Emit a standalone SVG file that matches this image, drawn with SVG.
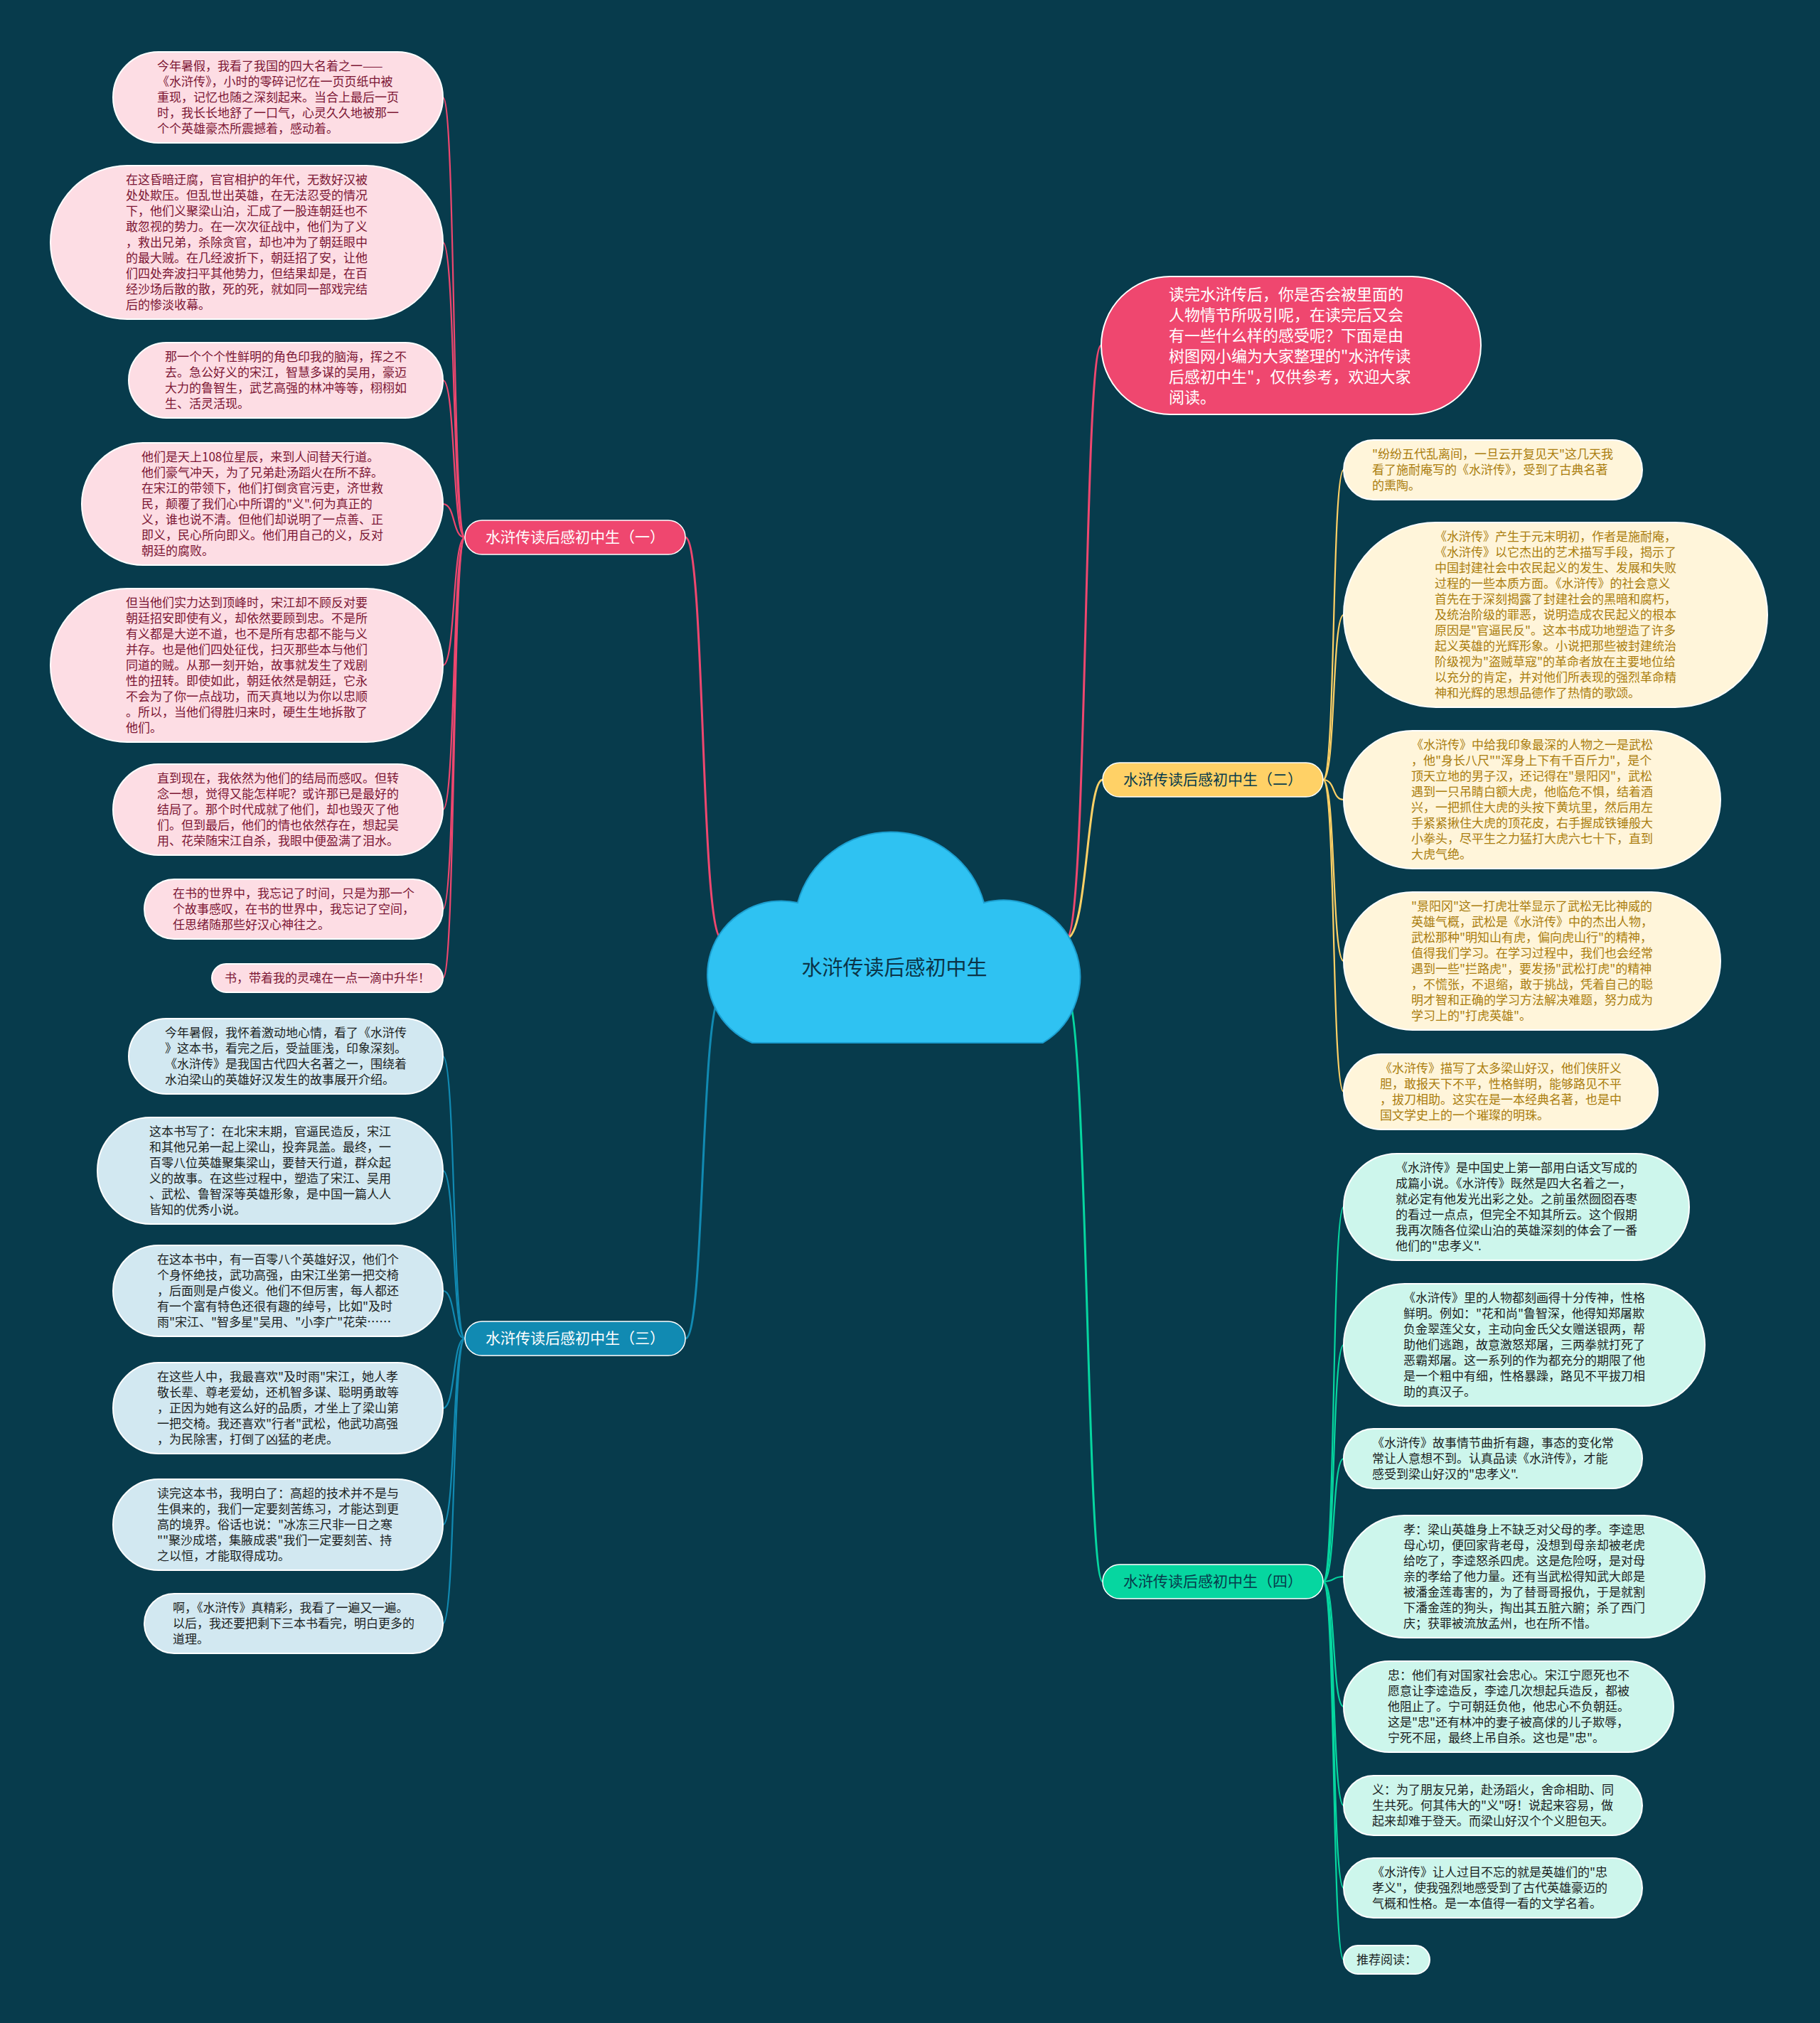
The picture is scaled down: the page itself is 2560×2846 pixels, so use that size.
<svg xmlns="http://www.w3.org/2000/svg" width="2560" height="2846" viewBox="0 0 2560 2846">
<style>
text{font-family:"Noto Sans CJK SC","Noto Sans",sans-serif}
.lf{font-size:17px}
.lp rect{fill:#fddde4;stroke:#ffffff;stroke-width:2}
.lp text{fill:#7c1634}
.ly rect{fill:#fff5da;stroke:#ffffff;stroke-width:2}
.ly text{fill:#aa7d0e}
.lg rect{fill:#cdf6ec;stroke:#ffffff;stroke-width:2}
.lg text{fill:#1b1f1f}
.lb rect{fill:#d2e8f1;stroke:#ffffff;stroke-width:2}
.lb text{fill:#1b1f22}
.br text{font-size:21px;text-anchor:middle}
.c{fill:none;stroke-linecap:round}
.cp{stroke:#ef476f}
.cy{stroke:#ffd166}
.cg{stroke:#06d6a0}
.cb{stroke:#118ab2}
.m{stroke-width:3}
.s{stroke-width:2.2}
</style>
<rect x="0" y="0" width="2560" height="2846" fill="#073b4c"/>

<g id="connectors">
<path class="c cp m" d="M1015,1320 C985,1320 992,756 964,756"/>
<path class="c cb m" d="M1015,1400 C985,1400 992,1883 964,1883"/>
<path class="c cp m" d="M1500,1320 C1530,1320 1524,486 1549,486"/>
<path class="c cy m" d="M1500,1320 C1530,1320 1528,1097 1551,1097"/>
<path class="c cg m" d="M1500,1400 C1530,1400 1528,2225 1551,2225"/>

<path class="c cp s" d="M654,756 C636,756 641,137 623,137"/>
<path class="c cp s" d="M654,756 C636,756 641,341 623,341"/>
<path class="c cp s" d="M654,756 C636,756 641,535 623,535"/>
<path class="c cp s" d="M654,756 C636,756 641,709 623,709"/>
<path class="c cp s" d="M654,756 C636,756 641,936 623,936"/>
<path class="c cp s" d="M654,756 C636,756 641,1139 623,1139"/>
<path class="c cp s" d="M654,756 C636,756 641,1279 623,1279"/>
<path class="c cp s" d="M654,756 C636,756 641,1376 623,1376"/>

<path class="c cb s" d="M654,1883 C636,1883 641,1486 623,1486"/>
<path class="c cb s" d="M654,1883 C636,1883 641,1647 623,1647"/>
<path class="c cb s" d="M654,1883 C636,1883 641,1816 623,1816"/>
<path class="c cb s" d="M654,1883 C636,1883 641,1981 623,1981"/>
<path class="c cb s" d="M654,1883 C636,1883 641,2145 623,2145"/>
<path class="c cb s" d="M654,1883 C636,1883 641,2284 623,2284"/>

<path class="c cy s" d="M1861,1097 C1879,1097 1873,661 1890,661"/>
<path class="c cy s" d="M1861,1097 C1879,1097 1873,865 1890,865"/>
<path class="c cy s" d="M1861,1097 C1879,1097 1873,1125 1890,1125"/>
<path class="c cy s" d="M1861,1097 C1879,1097 1873,1352 1890,1352"/>
<path class="c cy s" d="M1861,1097 C1879,1097 1873,1536 1890,1536"/>

<path class="c cg s" d="M1861,2225 C1879,2225 1873,1698 1890,1698"/>
<path class="c cg s" d="M1861,2225 C1879,2225 1873,1892 1890,1892"/>
<path class="c cg s" d="M1861,2225 C1879,2225 1873,2052 1890,2052"/>
<path class="c cg s" d="M1861,2225 C1879,2225 1873,2218 1890,2218"/>
<path class="c cg s" d="M1861,2225 C1879,2225 1873,2401 1890,2401"/>
<path class="c cg s" d="M1861,2225 C1879,2225 1873,2540 1890,2540"/>
<path class="c cg s" d="M1861,2225 C1879,2225 1873,2656 1890,2656"/>
<path class="c cg s" d="M1861,2225 C1879,2225 1873,2757 1890,2757"/>
</g>

<g id="center">
<path d="M1058,1467 A104,104 0 0 1 1122,1270 A136,136 0 0 1 1384,1270 A108,108 0 0 1 1467,1467 Z" fill="#2fc2f2" stroke="#1c9fd0" stroke-width="2"/>
<text x="1258" y="1372" font-size="29" text-anchor="middle" fill="#0b3447">水浒传读后感初中生</text>
</g>

<g id="intro">
<rect x="1549" y="389" width="534" height="194" rx="97" fill="#ef476f" stroke="#ffffff" stroke-width="2"/>
<text font-size="22" fill="#ffffff" x="1644" y="422"><tspan x="1644">读完水浒传后，你是否会被里面的</tspan><tspan x="1644" dy="29">人物情节所吸引呢，在读完后又会</tspan><tspan x="1644" dy="29">有一些什么样的感受呢？下面是由</tspan><tspan x="1644" dy="29">树图网小编为大家整理的"水浒传读</tspan><tspan x="1644" dy="29">后感初中生"，仅供参考，欢迎大家</tspan><tspan x="1644" dy="29">阅读。</tspan></text>
</g>

<g id="branch1" class="br">
<rect x="654" y="732" width="310" height="48" rx="24" fill="#ef476f" stroke="#ffffff" stroke-width="1.5"/>
<text x="809" y="763" fill="#ffffff">水浒传读后感初中生（一）</text>
</g>
<g id="branch2" class="br">
<rect x="1551" y="1073" width="310" height="48" rx="24" fill="#ffd166" stroke="#ffffff" stroke-width="1.5"/>
<text x="1706" y="1104" fill="#073b4c">水浒传读后感初中生（二）</text>
</g>
<g id="branch3" class="br">
<rect x="654" y="1859" width="310" height="48" rx="24" fill="#118ab2" stroke="#ffffff" stroke-width="1.5"/>
<text x="809" y="1890" fill="#ffffff">水浒传读后感初中生（三）</text>
</g>
<g id="branch4" class="br">
<rect x="1551" y="2201" width="310" height="48" rx="24" fill="#06d6a0" stroke="#ffffff" stroke-width="1.5"/>
<text x="1706" y="2232" fill="#073b4c">水浒传读后感初中生（四）</text>
</g>

<g id="p1" class="lp">
<rect x="159" y="73" width="464" height="128" rx="64"/>
<text class="lf" x="221" y="99"><tspan x="221">今年暑假，我看了我国的四大名着之一——</tspan><tspan x="221" dy="22">《水浒传》，小时的零碎记忆在一页页纸中被</tspan><tspan x="221" dy="22">重现，记忆也随之深刻起来。当合上最后一页</tspan><tspan x="221" dy="22">时，我长长地舒了一口气，心灵久久地被那一</tspan><tspan x="221" dy="22">个个英雄豪杰所震撼着，感动着。</tspan></text>
</g>
<g id="p2" class="lp">
<rect x="71" y="233" width="552" height="216" rx="108"/>
<text class="lf" x="177" y="259"><tspan x="177">在这昏暗迂腐，官官相护的年代，无数好汉被</tspan><tspan x="177" dy="22">处处欺压。但乱世出英雄，在无法忍受的情况</tspan><tspan x="177" dy="22">下，他们义聚梁山泊，汇成了一股连朝廷也不</tspan><tspan x="177" dy="22">敢忽视的势力。在一次次征战中，他们为了义</tspan><tspan x="177" dy="22">，救出兄弟，杀除贪官，却也冲为了朝廷眼中</tspan><tspan x="177" dy="22">的最大贼。在几经波折下，朝廷招了安，让他</tspan><tspan x="177" dy="22">们四处奔波扫平其他势力，但结果却是，在百</tspan><tspan x="177" dy="22">经沙场后散的散，死的死，就如同一部戏完结</tspan><tspan x="177" dy="22">后的惨淡收幕。</tspan></text>
</g>
<g id="p3" class="lp">
<rect x="181" y="482" width="442" height="106" rx="53"/>
<text class="lf" x="232" y="508"><tspan x="232">那一个个个性鲜明的角色印我的脑海，挥之不</tspan><tspan x="232" dy="22">去。急公好义的宋江，智慧多谋的吴用，豪迈</tspan><tspan x="232" dy="22">大力的鲁智生，武艺高强的林冲等等，栩栩如</tspan><tspan x="232" dy="22">生、活灵活现。</tspan></text>
</g>
<g id="p4" class="lp">
<rect x="115" y="623" width="508" height="172" rx="86"/>
<text class="lf" x="199" y="649"><tspan x="199">他们是天上108位星辰，来到人间替天行道。</tspan><tspan x="199" dy="22">他们豪气冲天，为了兄弟赴汤蹈火在所不辞。</tspan><tspan x="199" dy="22">在宋江的带领下，他们打倒贪官污吏，济世救</tspan><tspan x="199" dy="22">民，颠覆了我们心中所谓的"义".何为真正的</tspan><tspan x="199" dy="22">义，谁也说不清。但他们却说明了一点善、正</tspan><tspan x="199" dy="22">即义，民心所向即义。他们用自己的义，反对</tspan><tspan x="199" dy="22">朝廷的腐败。</tspan></text>
</g>
<g id="p5" class="lp">
<rect x="71" y="828" width="552" height="216" rx="108"/>
<text class="lf" x="177" y="854"><tspan x="177">但当他们实力达到顶峰时，宋江却不顾反对要</tspan><tspan x="177" dy="22">朝廷招安即使有义，却依然要顾到忠。不是所</tspan><tspan x="177" dy="22">有义都是大逆不道，也不是所有忠都不能与义</tspan><tspan x="177" dy="22">并存。也是他们四处征伐，扫灭那些本与他们</tspan><tspan x="177" dy="22">同道的贼。从那一刻开始，故事就发生了戏剧</tspan><tspan x="177" dy="22">性的扭转。即使如此，朝廷依然是朝廷，它永</tspan><tspan x="177" dy="22">不会为了你一点战功，而天真地以为你以忠顺</tspan><tspan x="177" dy="22">。所以，当他们得胜归来时，硬生生地拆散了</tspan><tspan x="177" dy="22">他们。</tspan></text>
</g>
<g id="p6" class="lp">
<rect x="159" y="1075" width="464" height="128" rx="64"/>
<text class="lf" x="221" y="1101"><tspan x="221">直到现在，我依然为他们的结局而感叹。但转</tspan><tspan x="221" dy="22">念一想，觉得又能怎样呢？或许那已是最好的</tspan><tspan x="221" dy="22">结局了。那个时代成就了他们，却也毁灭了他</tspan><tspan x="221" dy="22">们。但到最后，他们的情也依然存在，想起吴</tspan><tspan x="221" dy="22">用、花荣随宋江自杀，我眼中便盈满了泪水。</tspan></text>
</g>
<g id="p7" class="lp">
<rect x="203" y="1237" width="420" height="84" rx="42"/>
<text class="lf" x="243" y="1263"><tspan x="243">在书的世界中，我忘记了时间，只是为那一个</tspan><tspan x="243" dy="22">个故事感叹，在书的世界中，我忘记了空间，</tspan><tspan x="243" dy="22">任思绪随那些好汉心神往之。</tspan></text>
</g>
<g id="p8" class="lp">
<rect x="298" y="1356" width="325" height="40" rx="20"/>
<text class="lf" x="316" y="1382">书，带着我的灵魂在一点一滴中升华！</text>
</g>

<g id="b1" class="lb">
<rect x="181" y="1433" width="442" height="106" rx="53"/>
<text class="lf" x="232" y="1459"><tspan x="232">今年暑假，我怀着激动地心情，看了《水浒传</tspan><tspan x="232" dy="22">》这本书，看完之后，受益匪浅，印象深刻。</tspan><tspan x="232" dy="22">《水浒传》是我国古代四大名著之一，围绕着</tspan><tspan x="232" dy="22">水泊梁山的英雄好汉发生的故事展开介绍。</tspan></text>
</g>
<g id="b2" class="lb">
<rect x="137" y="1572" width="486" height="150" rx="75"/>
<text class="lf" x="210" y="1598"><tspan x="210">这本书写了：在北宋末期，官逼民造反，宋江</tspan><tspan x="210" dy="22">和其他兄弟一起上梁山，投奔晁盖。最终，一</tspan><tspan x="210" dy="22">百零八位英雄聚集梁山，要替天行道，群众起</tspan><tspan x="210" dy="22">义的故事。在这些过程中，塑造了宋江、吴用</tspan><tspan x="210" dy="22">、武松、鲁智深等英雄形象，是中国一篇人人</tspan><tspan x="210" dy="22">皆知的优秀小说。</tspan></text>
</g>
<g id="b3" class="lb">
<rect x="159" y="1752" width="464" height="128" rx="64"/>
<text class="lf" x="221" y="1778"><tspan x="221">在这本书中，有一百零八个英雄好汉，他们个</tspan><tspan x="221" dy="22">个身怀绝技，武功高强，由宋江坐第一把交椅</tspan><tspan x="221" dy="22">，后面则是卢俊义。他们不但厉害，每人都还</tspan><tspan x="221" dy="22">有一个富有特色还很有趣的绰号，比如"及时</tspan><tspan x="221" dy="22">雨"宋江、"智多星"吴用、"小李广"花荣……</tspan></text>
</g>
<g id="b4" class="lb">
<rect x="159" y="1917" width="464" height="128" rx="64"/>
<text class="lf" x="221" y="1943"><tspan x="221">在这些人中，我最喜欢"及时雨"宋江，她人孝</tspan><tspan x="221" dy="22">敬长辈、尊老爱幼，还机智多谋、聪明勇敢等</tspan><tspan x="221" dy="22">，正因为她有这么好的品质，才坐上了梁山第</tspan><tspan x="221" dy="22">一把交椅。我还喜欢"行者"武松，他武功高强</tspan><tspan x="221" dy="22">，为民除害，打倒了凶猛的老虎。</tspan></text>
</g>
<g id="b5" class="lb">
<rect x="159" y="2081" width="464" height="128" rx="64"/>
<text class="lf" x="221" y="2107"><tspan x="221">读完这本书，我明白了：高超的技术并不是与</tspan><tspan x="221" dy="22">生俱来的，我们一定要刻苦练习，才能达到更</tspan><tspan x="221" dy="22">高的境界。俗话也说："冰冻三尺非一日之寒</tspan><tspan x="221" dy="22">""聚沙成塔，集腋成裘"我们一定要刻苦、持</tspan><tspan x="221" dy="22">之以恒，才能取得成功。</tspan></text>
</g>
<g id="b6" class="lb">
<rect x="203" y="2242" width="420" height="84" rx="42"/>
<text class="lf" x="243" y="2268"><tspan x="243">啊，《水浒传》真精彩，我看了一遍又一遍。</tspan><tspan x="243" dy="22">以后，我还要把剩下三本书看完，明白更多的</tspan><tspan x="243" dy="22">道理。</tspan></text>
</g>

<g id="y1" class="ly">
<rect x="1890" y="619" width="420" height="84" rx="42"/>
<text class="lf" x="1930" y="645"><tspan x="1930">"纷纷五代乱离间，一旦云开复见天"这几天我</tspan><tspan x="1930" dy="22">看了施耐庵写的《水浒传》，受到了古典名著</tspan><tspan x="1930" dy="22">的熏陶。</tspan></text>
</g>
<g id="y2" class="ly">
<rect x="1890" y="735" width="596" height="260" rx="130"/>
<text class="lf" x="2018" y="761"><tspan x="2018">《水浒传》产生于元末明初，作者是施耐庵，</tspan><tspan x="2018" dy="22">《水浒传》以它杰出的艺术描写手段，揭示了</tspan><tspan x="2018" dy="22">中国封建社会中农民起义的发生、发展和失败</tspan><tspan x="2018" dy="22">过程的一些本质方面。《水浒传》的社会意义</tspan><tspan x="2018" dy="22">首先在于深刻揭露了封建社会的黑暗和腐朽，</tspan><tspan x="2018" dy="22">及统治阶级的罪恶，说明造成农民起义的根本</tspan><tspan x="2018" dy="22">原因是"官逼民反"。这本书成功地塑造了许多</tspan><tspan x="2018" dy="22">起义英雄的光辉形象。小说把那些被封建统治</tspan><tspan x="2018" dy="22">阶级视为"盗贼草寇"的革命者放在主要地位给</tspan><tspan x="2018" dy="22">以充分的肯定，并对他们所表现的强烈革命精</tspan><tspan x="2018" dy="22">神和光辉的思想品德作了热情的歌颂。</tspan></text>
</g>
<g id="y3" class="ly">
<rect x="1890" y="1028" width="530" height="194" rx="97"/>
<text class="lf" x="1985" y="1054"><tspan x="1985">《水浒传》中给我印象最深的人物之一是武松</tspan><tspan x="1985" dy="22">，他"身长八尺""浑身上下有千百斤力"，是个</tspan><tspan x="1985" dy="22">顶天立地的男子汉，还记得在"景阳冈"，武松</tspan><tspan x="1985" dy="22">遇到一只吊睛白额大虎，他临危不惧，结着酒</tspan><tspan x="1985" dy="22">兴，一把抓住大虎的头按下黄坑里，然后用左</tspan><tspan x="1985" dy="22">手紧紧揪住大虎的顶花皮，右手握成铁锤般大</tspan><tspan x="1985" dy="22">小拳头，尽平生之力猛打大虎六七十下，直到</tspan><tspan x="1985" dy="22">大虎气绝。</tspan></text>
</g>
<g id="y4" class="ly">
<rect x="1890" y="1255" width="530" height="194" rx="97"/>
<text class="lf" x="1985" y="1281"><tspan x="1985">"景阳冈"这一打虎壮举显示了武松无比神威的</tspan><tspan x="1985" dy="22">英雄气概，武松是《水浒传》中的杰出人物，</tspan><tspan x="1985" dy="22">武松那种"明知山有虎，偏向虎山行"的精神，</tspan><tspan x="1985" dy="22">值得我们学习。在学习过程中，我们也会经常</tspan><tspan x="1985" dy="22">遇到一些"拦路虎"，要发扬"武松打虎"的精神</tspan><tspan x="1985" dy="22">，不慌张，不退缩，敢于挑战，凭着自己的聪</tspan><tspan x="1985" dy="22">明才智和正确的学习方法解决难题，努力成为</tspan><tspan x="1985" dy="22">学习上的"打虎英雄"。</tspan></text>
</g>
<g id="y5" class="ly">
<rect x="1890" y="1483" width="442" height="106" rx="53"/>
<text class="lf" x="1941" y="1509"><tspan x="1941">《水浒传》描写了太多梁山好汉，他们侠肝义</tspan><tspan x="1941" dy="22">胆，敢报天下不平，性格鲜明，能够路见不平</tspan><tspan x="1941" dy="22">，拔刀相助。这实在是一本经典名著，也是中</tspan><tspan x="1941" dy="22">国文学史上的一个璀璨的明珠。</tspan></text>
</g>

<g id="g1" class="lg">
<rect x="1890" y="1623" width="486" height="150" rx="75"/>
<text class="lf" x="1963" y="1649"><tspan x="1963">《水浒传》是中国史上第一部用白话文写成的</tspan><tspan x="1963" dy="22">成篇小说。《水浒传》既然是四大名着之一，</tspan><tspan x="1963" dy="22">就必定有他发光出彩之处。之前虽然囫囵吞枣</tspan><tspan x="1963" dy="22">的看过一点点，但完全不知其所云。这个假期</tspan><tspan x="1963" dy="22">我再次随各位梁山泊的英雄深刻的体会了一番</tspan><tspan x="1963" dy="22">他们的"忠孝义".</tspan></text>
</g>
<g id="g2" class="lg">
<rect x="1890" y="1806" width="508" height="172" rx="86"/>
<text class="lf" x="1974" y="1832"><tspan x="1974">《水浒传》里的人物都刻画得十分传神，性格</tspan><tspan x="1974" dy="22">鲜明。例如："花和尚"鲁智深，他得知郑屠欺</tspan><tspan x="1974" dy="22">负金翠莲父女，主动向金氏父女赠送银两，帮</tspan><tspan x="1974" dy="22">助他们逃跑，故意激怒郑屠，三两拳就打死了</tspan><tspan x="1974" dy="22">恶霸郑屠。这一系列的作为都充分的期限了他</tspan><tspan x="1974" dy="22">是一个粗中有细，性格暴躁，路见不平拔刀相</tspan><tspan x="1974" dy="22">助的真汉子。</tspan></text>
</g>
<g id="g3" class="lg">
<rect x="1890" y="2010" width="420" height="84" rx="42"/>
<text class="lf" x="1930" y="2036"><tspan x="1930">《水浒传》故事情节曲折有趣，事态的变化常</tspan><tspan x="1930" dy="22">常让人意想不到。认真品读《水浒传》，才能</tspan><tspan x="1930" dy="22">感受到梁山好汉的"忠孝义".</tspan></text>
</g>
<g id="g4" class="lg">
<rect x="1890" y="2132" width="508" height="172" rx="86"/>
<text class="lf" x="1974" y="2158"><tspan x="1974">孝：梁山英雄身上不缺乏对父母的孝。李逵思</tspan><tspan x="1974" dy="22">母心切，便回家背老母，没想到母亲却被老虎</tspan><tspan x="1974" dy="22">给吃了，李逵怒杀四虎。这是危险呀，是对母</tspan><tspan x="1974" dy="22">亲的孝给了他力量。还有当武松得知武大郎是</tspan><tspan x="1974" dy="22">被潘金莲毒害的，为了替哥哥报仇，于是就割</tspan><tspan x="1974" dy="22">下潘金莲的狗头，掏出其五脏六腑；杀了西门</tspan><tspan x="1974" dy="22">庆；获罪被流放孟州，也在所不惜。</tspan></text>
</g>
<g id="g5" class="lg">
<rect x="1890" y="2337" width="464" height="128" rx="64"/>
<text class="lf" x="1952" y="2363"><tspan x="1952">忠：他们有对国家社会忠心。宋江宁愿死也不</tspan><tspan x="1952" dy="22">愿意让李逵造反，李逵几次想起兵造反，都被</tspan><tspan x="1952" dy="22">他阻止了。宁可朝廷负他，他忠心不负朝廷。</tspan><tspan x="1952" dy="22">这是"忠"还有林冲的妻子被高俅的儿子欺辱，</tspan><tspan x="1952" dy="22">宁死不屈，最终上吊自杀。这也是"忠"。</tspan></text>
</g>
<g id="g6" class="lg">
<rect x="1890" y="2498" width="420" height="84" rx="42"/>
<text class="lf" x="1930" y="2524"><tspan x="1930">义：为了朋友兄弟，赴汤蹈火，舍命相助、同</tspan><tspan x="1930" dy="22">生共死。何其伟大的"义"呀！说起来容易，做</tspan><tspan x="1930" dy="22">起来却难于登天。而梁山好汉个个义胆包天。</tspan></text>
</g>
<g id="g7" class="lg">
<rect x="1890" y="2614" width="420" height="84" rx="42"/>
<text class="lf" x="1930" y="2640"><tspan x="1930">《水浒传》让人过目不忘的就是英雄们的"忠</tspan><tspan x="1930" dy="22">孝义"，使我强烈地感受到了古代英雄豪迈的</tspan><tspan x="1930" dy="22">气概和性格。是一本值得一看的文学名着。</tspan></text>
</g>
<g id="g8" class="lg">
<rect x="1890" y="2737" width="121" height="40" rx="20"/>
<text class="lf" x="1908" y="2763">推荐阅读：</text>
</g>
</svg>
